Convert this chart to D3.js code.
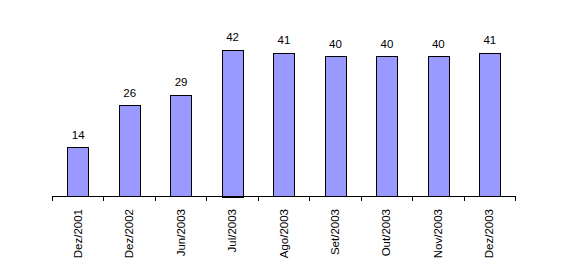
<!DOCTYPE html>
<meta charset="utf-8">
<style>
    body { margin: 0; background: #fff; }
    svg { font-family: "Liberation Sans", Arial, sans-serif; }
</style>
<body>
<script src="https://cdn.jsdelivr.net/npm/d3@7"></script>
<script>
    const categories = ["Dez/2001", "Dez/2002", "Jun/2003", "Jul/2003", "Ago/2003",
                        "Set/2003", "Out/2003", "Nov/2003", "Dez/2003"];
    const values = [14, 26, 29, 42, 41, 40, 40, 40, 41];

    const width = 564, height = 278;
    const left = 52, right = 515, base = 196;

    const svg = d3.select("body").append("svg")
        .attr("width", width)
        .attr("height", height);

    const x = d3.scaleBand()
        .domain(categories)
        .range([left, right])
        .paddingInner(0.6)
        .paddingOuter(0.3);

    const y = d3.scaleLinear()
        .domain([0, 42])
        .range([base, 49.5]);

    // bars
    svg.append("g").selectAll("rect")
        .data(values)
        .enter().append("rect")
        .attr("x", (d, i) => Math.round(x(categories[i])) + 0.5)
        .attr("y", d => Math.round(y(d)) + 0.5)
        .attr("width", Math.round(x.bandwidth()))
        .attr("height", d => Math.round(base - y(d)))
        .style("fill", "#9999ff")
        .style("stroke", "#000")
        .style("stroke-width", 1);

    // value labels
    svg.append("g").selectAll("text")
        .data(values)
        .enter().append("text")
        .attr("x", (d, i) => x(categories[i]) + x.bandwidth() / 2 + 0.5)
        .attr("y", d => y(d) - 8.5)
        .attr("text-anchor", "middle")
        .style("font-size", "11.5px")
        .text(d => d);

    // x axis
    const step = (right - left) / categories.length;
    const axis = svg.append("g");
    axis.append("line")
        .attr("x1", left).attr("x2", right)
        .attr("y1", base + 0.5).attr("y2", base + 0.5)
        .style("stroke", "#000");
    axis.selectAll("line.tick")
        .data(d3.range(categories.length + 1))
        .enter().append("line")
        .attr("class", "tick")
        .attr("x1", i => Math.round(left + i * step) + 0.5)
        .attr("x2", i => Math.round(left + i * step) + 0.5)
        .attr("y1", base)
        .attr("y2", base + 5)
        .style("stroke", "#000");

    axis.selectAll("text")
        .data(categories)
        .enter().append("text")
        .attr("transform", d => "translate(" + (x(d) + x.bandwidth() / 2 + 4) + "," + (base + 13) + ") rotate(-90)")
        .attr("text-anchor", "end")
        .style("font-size", "11.5px")
        .text(d => d);
</script>
</body>
